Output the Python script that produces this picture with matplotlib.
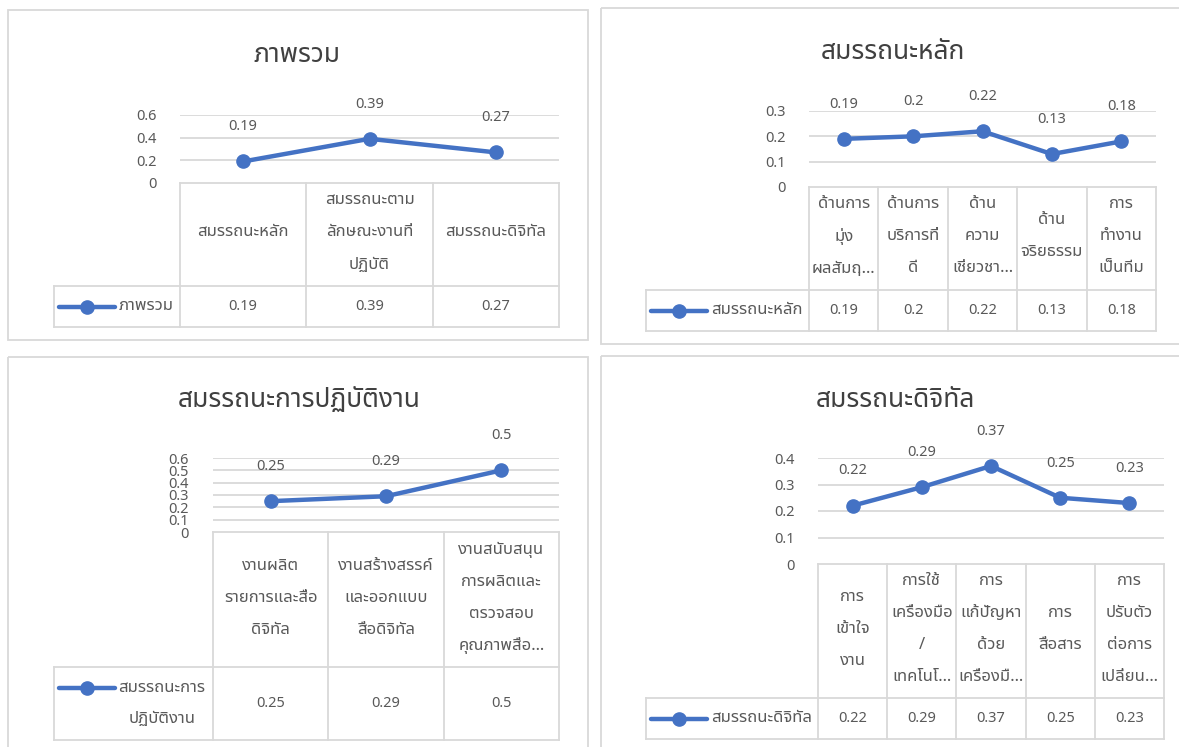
import matplotlib

matplotlib.use("Agg")
import matplotlib.pyplot as plt  # noqa: E402
import numpy as np  # noqa: E402
from matplotlib.lines import Line2D  # noqa: E402
from matplotlib.patches import Rectangle  # noqa: E402
from matplotlib.transforms import Affine2D  # noqa: E402

plt.rcParams["font.family"] = ["Noto Sans", "Noto Sans Thai", "DejaVu Sans"]

W, H = 1179, 747
LINE = "#4472C4"
INK = "#595959"
TITLE_INK = "#404040"
GRID = "#d9d9d9"
NUM_FS = 10.5   # numbers (ticks, labels, table values)
THAI_FS = 12    # thai text in the data table

# ---- data ----
overall_title = "ภาพรวม"
overall_cats = [["สมรรถนะหลัก"], ["สมรรถนะตาม", "ลักษณะงานที่", "ปฏิบัติ"], ["สมรรถนะดิจิทัล"]]
overall_vals = [0.19, 0.39, 0.27]
overall_ticks = [0, 0.2, 0.4, 0.6]
overall_legend = ["ภาพรวม"]

core_title = "สมรรถนะหลัก"
core_cats = [["ด้านการ", "มุ่ง", "ผลสัมฤ…"], ["ด้านการ", "บริการที่", "ดี"],
             ["ด้าน", "ความ", "เชี่ยวชา…"], ["ด้าน", "จริยธรรม"], ["การ", "ทำงาน", "เป็นทีม"]]
core_vals = [0.19, 0.2, 0.22, 0.13, 0.18]
core_ticks = [0, 0.1, 0.2, 0.3]
core_legend = ["สมรรถนะหลัก"]

work_title = "สมรรถนะการปฏิบัติงาน"
work_cats = [["งานผลิต", "รายการและสื่อ", "ดิจิทัล"], ["งานสร้างสรรค์", "และออกแบบ", "สื่อดิจิทัล"],
             ["งานสนับสนุน", "การผลิตและ", "ตรวจสอบ", "คุณภาพสื่อ…"]]
work_vals = [0.25, 0.29, 0.5]
work_ticks = [0, 0.1, 0.2, 0.3, 0.4, 0.5, 0.6]
work_legend = ["สมรรถนะการ", "ปฏิบัติงาน"]

digital_title = "สมรรถนะดิจิทัล"
digital_cats = [["การ", "เข้าใจ", "งาน"], ["การใช้", "เครื่องมือ", "/", "เทคโนโ…"],
                ["การ", "แก้ปัญหา", "ด้วย", "เครื่องมื…"], ["การ", "สื่อสาร"],
                ["การ", "ปรับตัว", "ต่อการ", "เปลี่ยน…"]]
digital_vals = [0.22, 0.29, 0.37, 0.25, 0.23]
digital_ticks = [0, 0.1, 0.2, 0.3, 0.4]
digital_legend = ["สมรรถนะดิจิทัล"]

fig = plt.figure(figsize=(W / 100, H / 100), dpi=100)
# pixel coordinates, origin top-left
PX = Affine2D().scale(1 / W, -1 / H).translate(0, 1) + fig.transFigure


def hline(x0, x1, y):
    fig.add_artist(Line2D([x0, x1], [y, y], transform=PX, color=GRID, lw=1.3))


def vline(x, y0, y1):
    fig.add_artist(Line2D([x, x], [y0, y1], transform=PX, color=GRID, lw=1.3))


def chart(box, title, title_xy, plot, tick_right, cats, vals, ticks, legend,
          cat_bottom, val_bottom, leg_left):
    bx0, by0, bx1, by1 = box
    fig.add_artist(Rectangle((bx0, by0), bx1 - bx0, by1 - by0, transform=PX,
                             fill=False, edgecolor=GRID, lw=1.3))
    fig.text(title_xy[0], title_xy[1], title, transform=PX, ha="center", va="center",
             fontsize=19, color=TITLE_INK)

    px0, py_top, px1, py0 = plot
    n = len(vals)
    ax = fig.add_axes([px0 / W, 1 - py0 / H, (px1 - px0) / W, (py0 - py_top) / H])
    ax.set_xlim(-0.5, n - 0.5)
    ax.set_ylim(0, ticks[-1])
    ax.patch.set_alpha(0)
    for s in ax.spines.values():
        s.set_visible(False)
    ax.set_xticks([])
    ax.set_yticks(ticks)
    ax.set_yticklabels([f"{t:g}" for t in ticks])
    ax.tick_params(axis="y", length=0, pad=(px0 - tick_right) * 0.72,
                   labelsize=NUM_FS, labelcolor=INK)
    for t in ticks[1:]:
        ax.axhline(t, color=GRID, lw=1.3, zorder=1)
    x = np.arange(n)
    ax.plot(x, vals, color=LINE, lw=3.2, marker="o", ms=9.5, zorder=3,
            solid_capstyle="round")
    for xi, v in zip(x, vals):
        ax.annotate(f"{v:g}", (xi, v), xytext=(0, 25), textcoords="offset points",
                    ha="center", va="center", fontsize=NUM_FS, color=INK,
                    annotation_clip=False)

    # data table under the plot
    edges = np.linspace(px0, px1, n + 1)
    hline(px0, px1, py0)
    hline(leg_left, px1, cat_bottom)
    hline(leg_left, px1, val_bottom)
    for e in edges:
        vline(e, py0, val_bottom)
    vline(leg_left, cat_bottom, val_bottom)
    cy = (py0 + cat_bottom) / 2 - 2
    vy = (cat_bottom + val_bottom) / 2
    for i, lines in enumerate(cats):
        cx = (edges[i] + edges[i + 1]) / 2
        for j, s in enumerate(lines):
            fig.text(cx, cy + (j - (len(lines) - 1) / 2) * 32, s, transform=PX,
                     ha="center", va="center", fontsize=THAI_FS, color=INK)
        fig.text(cx, vy, f"{vals[i]:g}", transform=PX, ha="center", va="center",
                 fontsize=NUM_FS, color=INK)
    # legend key
    ky = vy - (len(legend) - 1) * 16
    lx0 = leg_left + 5
    fig.add_artist(Line2D([lx0, lx0 + 56], [ky, ky], transform=PX, color=LINE, lw=3.2,
                          solid_capstyle="round"))
    fig.add_artist(Line2D([lx0 + 28], [ky], transform=PX, color=LINE, marker="o", ms=9.5))
    if len(legend) == 1:
        fig.text(lx0 + 60, ky, legend[0], transform=PX, ha="left", va="center",
                 fontsize=THAI_FS, color=INK)
    else:
        tc = lx0 + 60 + 43
        for j, s in enumerate(legend):
            fig.text(tc, ky + j * 32, s, transform=PX, ha="center", va="center",
                     fontsize=THAI_FS, color=INK)


chart((8, 10, 588, 340), overall_title, (297, 55), (180, 115, 559, 183), 157,
      overall_cats, overall_vals, overall_ticks, overall_legend, 286, 327, 54)
chart((601, 8, 1200, 344), core_title, (893, 52), (809, 111, 1156, 187), 786,
      core_cats, core_vals, core_ticks, core_legend, 290, 331, 646)
chart((8, 357, 588, 800), work_title, (299, 400), (213, 458, 559, 532), 189,
      work_cats, work_vals, work_ticks, work_legend, 667, 740, 54)
chart((601, 356, 1200, 800), digital_title, (895, 400), (818, 458, 1164, 564), 795,
      digital_cats, digital_vals, digital_ticks, digital_legend, 698, 739, 646)

fig.savefig("out.png", dpi=100, facecolor="white")
